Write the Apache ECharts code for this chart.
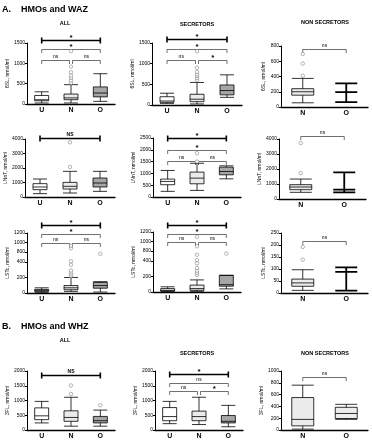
<!DOCTYPE html>
<html>
<head>
<meta charset="utf-8">
<script src="https://cdn.jsdelivr.net/npm/echarts@6/dist/echarts.min.js"></script>
<style>html,body{margin:0;padding:0;background:#fff}#main{width:372px;height:440px}</style>
</head>
<body>
<div id="main"></div>
<script>
// categories
var cats3 = ['U', 'N', 'O'];
var cats2 = ['N', 'O'];

// box data: [min, Q1, median, Q3, max]; outliers: [catIndex, value]; brackets: [from, to, y, label, bold]
// A. 6SL
var sl6AllBox = [[25, 80, 105, 210, 300], [25, 105, 150, 245, 475], [65, 175, 270, 420, 745]];
var sl6AllOut = [[1, 520], [1, 580], [1, 640], [1, 700], [1, 780], [1, 920], [1, 1300]];
var sl6AllSig = [[0, 2, 1570, '*', 1], [0, 2, 1350, '*', 0], [0, 1, 1075, 'ns', 0], [1, 2, 1075, 'ns', 0]];
var sl6SecBox = [[40, 65, 97, 200, 285], [25, 80, 140, 260, 545], [185, 245, 350, 485, 730]];
var sl6SecOut = [[1, 600], [1, 650], [1, 700], [1, 740], [1, 800], [1, 900], [1, 1300]];
var sl6SecSig = [[0, 2, 1600, '*', 1], [0, 2, 1355, '*', 0], [0, 1, 1080, 'ns', 0], [1, 2, 1080, '*', 0]];
var sl6NonBox = [[55, 155, 200, 240, 375], [65, 195, 195, 195, 310]];
var sl6NonOut = [[0, 410], [0, 570], [0, 695]];
var sl6NonSig = [[0, 1, 760, 'ns', 0]];
// LNnT
var lnntAllBox = [[230, 505, 690, 920, 1240], [275, 550, 735, 1010, 1770], [390, 690, 965, 1310, 1770]];
var lnntAllOut = [[1, 2070], [1, 3770]];
var lnntAllSig = [[0, 2, 4070, 'NS', 1]];
var lnntSecBox = [[240, 520, 660, 760, 1125], [280, 560, 800, 1055, 1430], [770, 940, 1080, 1265, 1320]];
var lnntSecOut = [[1, 1500], [1, 1855]];
var lnntSecSig = [[0, 2, 2480, '*', 1], [0, 2, 2000, '*', 0], [0, 1, 1545, 'ns', 0], [1, 2, 1545, 'ns', 0]];
var lnntNonBox = [[445, 620, 800, 955, 1330], [445, 620, 620, 620, 1780]];
var lnntNonOut = [[0, 1730], [0, 3730]];
var lnntNonSig = [[0, 1, 4220, 'ns', 0]];
// LSTc
var lstcAllBox = [[8, 21, 33, 46, 67], [21, 42, 67, 96, 200], [12, 62, 96, 137, 146]];
var lstcAllOut = [[1, 220], [1, 240], [1, 265], [1, 290], [1, 365], [1, 430], [1, 880], [1, 930], [2, 730]];
var lstcAllSig = [[0, 2, 1360, '*', 1], [0, 2, 1170, '*', 0], [0, 1, 1000, 'ns', 0], [1, 2, 1000, 'ns', 0]];
var lstcSecBox = [[9, 13, 22, 44, 67], [9, 22, 44, 89, 156], [40, 75, 95, 215, 215]];
var lstcSecOut = [[1, 220], [1, 245], [1, 275], [1, 310], [1, 370], [1, 440], [1, 650], [1, 900], [1, 1100], [2, 700]];
var lstcSecSig = [[0, 2, 1350, '*', 1], [0, 2, 1165, '*', 0], [0, 1, 990, 'ns', 0], [1, 2, 990, 'ns', 0]];
var lstcNonBox = [[11, 28, 42, 58, 97], [10, 88, 88, 88, 107]];
var lstcNonOut = [[0, 139], [0, 192]];
var lstcNonSig = [[0, 1, 215, 'ns', 0]];
var lstcTicks = [0, 200, 400, 800, 1000, 1200];
// B. 3FL
var fl3AllBox = [[240, 350, 480, 750, 970], [130, 295, 425, 650, 1110], [130, 240, 315, 460, 675]];
var fl3AllOut = [[1, 1220], [1, 1510], [2, 840]];
var fl3AllSig = [[0, 2, 1870, 'NS', 1]];
var fl3SecBox = [[215, 315, 455, 760, 970], [185, 315, 455, 640, 1110], [110, 240, 295, 490, 835]];
var fl3SecOut = [];
var fl3SecSig = [[0, 2, 1890, '*', 1], [0, 2, 1600, 'ns', 0], [0, 1, 1325, 'ns', 0], [1, 2, 1325, '*', 0]];
var fl3NonBox = [[15, 70, 180, 550, 760], [180, 195, 280, 385, 435]];
var fl3NonOut = [];
var fl3NonSig = [[0, 1, 905, 'ns', 0]];

// broken axis for LSTc (compressed above 400)
var brk = [[0, 0], [400, 31], [800, 41], [1200, 60]];
function brkF(v) {
    for (var i = 1; i < brk.length; i++) {
        if (v <= brk[i][0] || i == brk.length - 1) {
            var a = brk[i - 1], b = brk[i];
            return a[1] + (v - a[0]) * (b[1] - a[1]) / (b[0] - a[0]);
        }
    }
}
function ident(v) { return v; }

var fillCols3 = ['#ffffff', '#ebebeb', '#a6a6a6'];
var fillCols2 = ['#ececec', '#ececec'];

var panels = [
    {title: 'ALL', tx: 65, ty: 23, g: [27, 43, 88, 61], cats: cats3, box: sl6AllBox, out: sl6AllOut, sig: sl6AllSig, max: 1500, iv: 500, name: '6SL, nmol/ml'},
    {title: 'SECRETORS', tx: 197, ty: 24, g: [152, 43, 90, 62], cats: cats3, box: sl6SecBox, out: sl6SecOut, sig: sl6SecSig, max: 1500, iv: 500, name: '6SL, nmol/ml'},
    {title: 'NON SECRETORS', tx: 325, ty: 22, g: [281, 46, 87, 61], cats: cats2, box: sl6NonBox, out: sl6NonOut, sig: sl6NonSig, max: 800, iv: 200, name: '6SL, nmol/ml'},
    {g: [25, 139, 90, 58], cats: cats3, box: lnntAllBox, out: lnntAllOut, sig: lnntAllSig, max: 4000, iv: 1000, name: 'LNnT, nmol/ml'},
    {g: [153, 138, 88, 59], cats: cats3, box: lnntSecBox, out: lnntSecOut, sig: lnntSecSig, max: 2500, iv: 500, name: 'LNnT, nmol/ml'},
    {g: [279, 139, 87, 60], cats: cats2, box: lnntNonBox, out: lnntNonOut, sig: lnntNonSig, max: 4000, iv: 1000, name: 'LNnT, nmol/ml'},
    {g: [27, 233, 88, 60], cats: cats3, box: lstcAllBox, out: lstcAllOut, sig: lstcAllSig, broken: true, name: 'LSTc, nmol/ml'},
    {g: [153, 232, 88, 60], cats: cats3, box: lstcSecBox, out: lstcSecOut, sig: lstcSecSig, broken: true, name: 'LSTc, nmol/ml'},
    {g: [281, 233, 87, 60], cats: cats2, box: lstcNonBox, out: lstcNonOut, sig: lstcNonSig, max: 250, iv: 50, name: 'LSTc, nmol/ml'},
    {title: 'ALL', tx: 65, ty: 340, g: [27, 371, 88, 61], cats: cats3, box: fl3AllBox, out: fl3AllOut, sig: fl3AllSig, max: 2000, iv: 500, name: '3FL, nmol/ml'},
    {title: 'SECRETORS', tx: 197, ty: 353, g: [155, 371, 88, 61], cats: cats3, box: fl3SecBox, out: fl3SecOut, sig: fl3SecSig, max: 2000, iv: 500, name: '3FL, nmol/ml'},
    {title: 'NON SECRETORS', tx: 325, ty: 353, g: [281, 371, 87, 59], cats: cats2, box: fl3NonBox, out: fl3NonOut, sig: fl3NonSig, max: 1000, iv: 200, name: '3FL, nmol/ml'}
];

function sigRenderer(p, f) {
    return function (params, api) {
        var s = p.sig[params.dataIndex];
        var yv = f(s[2]);
        var a = api.coord([s[0], yv]), b = api.coord([s[1], yv]);
        var x1 = a[0], x2 = b[0], y = Math.round(a[1]) + 0.5;
        var kids = [];
        if (s[4]) {
            var st = {stroke: '#000', lineWidth: 1.6};
            kids.push({type: 'line', shape: {x1: x1, y1: y, x2: x2, y2: y}, style: st});
            kids.push({type: 'line', shape: {x1: x1, y1: y - 3, x2: x1, y2: y + 3}, style: st});
            kids.push({type: 'line', shape: {x1: x2, y1: y - 3, x2: x2, y2: y + 3}, style: st});
        } else {
            var st2 = {stroke: '#333', lineWidth: 0.7, fill: null};
            if (p.cats.length == 3 && (s[1] - s[0]) == 1) {
                if (s[0] == 1) x1 += 1.5; else x2 -= 1.5;
            }
            kids.push({type: 'polyline', shape: {points: [[x1, y + 3.5], [x1, y], [x2, y], [x2, y + 3.5]]}, style: st2});
        }
        var star = s[3] == '*';
        kids.push({type: 'text', x: (x1 + x2) / 2, y: y - (star ? 3 : 3.5), style: {
            text: s[3], fill: '#000', align: 'center', verticalAlign: 'middle',
            font: (star ? 'bold 8px' : (s[4] ? 'bold 5px' : '5px')) + ' "Liberation Sans", Arial, sans-serif'
        }});
        return {type: 'group', children: kids};
    };
}

var grids = [], xAxes = [], yAxes = [], series = [];
var graphics = [
    {type: 'text', x: 2, y: 10, style: {text: 'A.    HMOs and WAZ', font: 'bold 9px "Liberation Sans", Arial, sans-serif', fill: '#000', verticalAlign: 'middle'}},
    {type: 'text', x: 2, y: 327, style: {text: 'B.    HMOs and WHZ', font: 'bold 9px "Liberation Sans", Arial, sans-serif', fill: '#000', verticalAlign: 'middle'}}
];

panels.forEach(function (p, i) {
    var f = p.broken ? brkF : ident;
    grids.push({left: p.g[0], top: p.g[1], width: p.g[2], height: p.g[3]});
    if (p.title) {
        graphics.push({type: 'text', x: p.tx, y: p.ty, style: {text: p.title, font: 'bold 5.5px "Liberation Sans", Arial, sans-serif', fill: '#000', align: 'center', verticalAlign: 'middle'}});
    }
    xAxes.push({
        gridIndex: i, type: 'category', data: p.cats,
        axisLine: {lineStyle: {color: '#000', width: 1.3}},
        axisTick: {alignWithLabel: true, length: 2, lineStyle: {color: '#000'}},
        axisLabel: {fontSize: 7, fontWeight: 'bold', color: '#000', margin: 3, fontFamily: 'Liberation Sans'}
    });
    var ya = {
        gridIndex: i, type: 'value', min: 0,
        axisLine: {show: true, lineStyle: {color: '#000', width: 1}},
        axisTick: {show: true, length: 2, lineStyle: {color: '#000'}},
        splitLine: {show: false},
        axisLabel: {fontSize: 5, color: '#000', margin: 2, fontFamily: 'Liberation Sans', formatter: function (v) { return String(v); }},
        name: p.name, nameLocation: 'middle', nameGap: 15,
        nameTextStyle: {fontSize: 5, color: '#000', fontFamily: 'Liberation Sans'}
    };
    if (p.broken) {
        var tv = lstcTicks.map(brkF);
        ya.max = brkF(1200);
        ya.axisLabel.customValues = tv;
        ya.axisTick.customValues = tv;
        ya.axisLabel.formatter = function (v) {
            for (var k = 0; k < tv.length; k++) if (Math.abs(tv[k] - v) < 0.01) return String(lstcTicks[k]);
            return '';
        };
    } else {
        ya.max = p.max;
        ya.interval = p.iv;
    }
    yAxes.push(ya);

    var cols = p.cats.length == 3 ? fillCols3 : fillCols2;
    var bw = p.cats.length == 3 ? 14 : 22;
    series.push({
        type: 'boxplot', xAxisIndex: i, yAxisIndex: i, boxWidth: [bw, bw],
        data: p.box.map(function (b, j) {
            var flat = b[1] == b[3];
            return {value: b.map(f), itemStyle: {color: cols[j], borderColor: '#000', borderWidth: flat ? 1.8 : 0.8}};
        }),
        emphasis: {disabled: true}
    });
    series.push({
        type: 'scatter', xAxisIndex: i, yAxisIndex: i, symbol: 'circle', symbolSize: 3.5,
        itemStyle: {color: '#fff', borderColor: '#8a8a8a', borderWidth: 0.8},
        data: p.out.map(function (o) { return [o[0], f(o[1])]; })
    });
    series.push({
        type: 'custom', xAxisIndex: i, yAxisIndex: i, clip: false,
        renderItem: sigRenderer(p, f),
        data: p.sig.map(function (s) { return [s[0], f(s[2])]; }),
        silent: true
    });
});

var myChart = echarts.init(document.getElementById('main'));
myChart.setOption({
    animation: false,
    backgroundColor: '#fff',
    grid: grids,
    xAxis: xAxes,
    yAxis: yAxes,
    graphic: graphics,
    series: series
});
</script>
</body>
</html>
